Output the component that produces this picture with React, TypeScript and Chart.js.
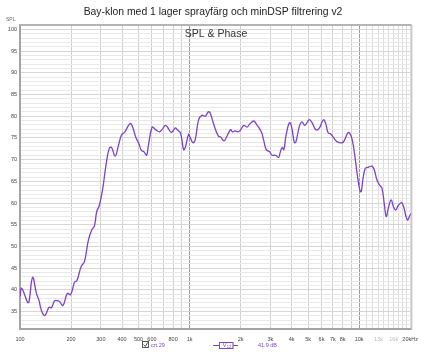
import React, { useEffect, useRef } from "react";
import { Chart, registerables } from "chart.js";
Chart.register(...registerables);

const freqs = [100, 102.3, 110.9, 112.9, 118.7, 125.2, 129.2, 133.9, 140, 148.4, 153.2, 160.2, 167.5, 171.4, 179.2, 190.2, 198.8, 209.8, 216.4, 229.5, 239.9, 253.3, 264.8, 274.6, 283.4, 293.8, 307.2, 321.3, 336, 346.5, 364, 379.2, 396.3, 414.9, 445.7, 459.8, 481.2, 503.3, 518.8, 538.3, 558, 570.2, 602.2, 630, 665, 688.5, 720.8, 743.4, 777.5, 805.4, 824.2, 850.6, 882.5, 901.6, 922.6, 943.9, 986.3, 1009, 1045, 1079, 1129, 1180, 1235, 1291, 1321, 1394, 1478, 1525, 1596, 1652, 1743, 1791, 1849, 1934, 1995, 2089, 2183, 2265, 2389, 2476, 2649, 2735, 2833, 2965, 3069, 3214, 3350, 3420, 3516, 3597, 3707, 3882, 4000, 4150, 4240, 4437, 4600, 4786, 5081, 5310, 5550, 5810, 6155, 6350, 6560, 6795, 7115, 7432, 7955, 8205, 8590, 8830, 9100, 9395, 9730, 10090, 10280, 10550, 10890, 11400, 11920, 12290, 12740, 13210, 13640, 14060, 14450, 14920, 15450, 15960, 16450, 17060, 17830, 18400, 18910, 19360, 19950, 20400];
const spl = [38.4, 40.4, 37.1, 37.2, 42.9, 39.1, 37.7, 35.2, 34.1, 36.0, 35.9, 37.5, 37.5, 37.3, 36.4, 39.2, 38.9, 41.8, 42.1, 45.4, 46.5, 51.5, 53.8, 54.7, 58.0, 59.5, 63.2, 68.7, 72.6, 72.8, 70.8, 73.0, 75.6, 76.4, 78.3, 77.7, 75.2, 73.6, 72.2, 71.8, 71.0, 73.0, 77.5, 76.9, 76.4, 76.9, 77.9, 77.4, 76.3, 76.8, 77.3, 76.8, 76.2, 74.5, 72.3, 72.8, 75.8, 75.1, 73.9, 74.5, 79.1, 80.2, 80.0, 81.0, 80.8, 77.9, 75.4, 75.2, 74.3, 75.2, 76.9, 76.4, 76.6, 76.4, 76.8, 77.9, 77.5, 78.2, 78.9, 78.2, 76.4, 74.5, 72.3, 71.8, 71.0, 71.0, 70.5, 71.6, 72.8, 72.3, 75.6, 78.5, 77.5, 73.9, 74.1, 77.6, 78.7, 77.9, 79.2, 78.3, 76.9, 77.2, 79.2, 78.3, 76.2, 75.9, 74.9, 74.1, 73.9, 74.5, 76.2, 76.0, 74.6, 71.4, 66.8, 63.0, 62.6, 65.7, 68.0, 68.3, 68.5, 67.6, 65.3, 64.1, 63.4, 59.9, 56.9, 59.1, 60.7, 59.1, 58.4, 59.5, 60.1, 58.8, 56.9, 56.1, 57.2, 57.6];

const xGridValues = [100, 200, 300, 400, 500, 600, 700, 800, 900, 1000, 2000, 3000, 4000, 5000, 6000, 7000, 8000, 9000, 10000, 11000, 12000, 13000, 14000, 15000, 16000, 17000, 18000, 19000, 20000];
const xTickLabels: Record<number, string> = { 100: "100", 200: "200", 300: "300", 400: "400", 500: "500", 600: "600", 800: "800", 1000: "1k", 2000: "2k", 3000: "3k", 4000: "4k", 5000: "5k", 6000: "6k", 7000: "7k", 8000: "8k", 10000: "10k", 13000: "13k", 16000: "16k", 20000: "20kHz" };
const greyLabels = [13000, 16000];
const yMin = 31;
const yMax = 101;

const title = "Bay-klon med 1 lager sprayfärg och minDSP filtrering v2";
const subtitle = "SPL & Phase";
const seriesName = "crt.29";
const seriesValue = "41.9 dB";

const PURPLE = "#7a44c6";
const FONT = '"Liberation Sans", Arial, sans-serif';

export default function App() {
  const ref = useRef<HTMLCanvasElement | null>(null);
  useEffect(() => {
    if (!ref.current) return;
    const textPlugin = {
      id: "texts",
      afterDraw(chart: any) {
        const ctx = chart.ctx;
        const a = chart.chartArea;
        ctx.save();
        ctx.strokeStyle = "#b4b4b4";
        ctx.lineWidth = 2;
        ctx.beginPath();
        ctx.moveTo(a.left, a.top);
        ctx.lineTo(a.right, a.top);
        ctx.stroke();
        ctx.strokeStyle = "#c8c8c8";
        ctx.lineWidth = 1.5;
        ctx.beginPath();
        ctx.moveTo(a.right, a.top);
        ctx.lineTo(a.right, a.bottom);
        ctx.stroke();
        ctx.fillStyle = "#222";
        ctx.textAlign = "center";
        ctx.textBaseline = "middle";
        ctx.font = `10.4px ${FONT}`;
        ctx.fillText(title, 213, 12);
        ctx.fillStyle = "#333";
        ctx.font = `10.5px ${FONT}`;
        ctx.fillText(subtitle, 216, 34);
        ctx.fillStyle = "#666";
        ctx.font = `5px ${FONT}`;
        ctx.textAlign = "left";
        ctx.fillText("SPL", 6, 20);
        const ly = 345;
        ctx.strokeStyle = "#555";
        ctx.lineWidth = 1;
        ctx.fillStyle = "#fff";
        ctx.fillRect(142.5, 341.5, 6, 6);
        ctx.strokeRect(142.5, 341.5, 6, 6);
        ctx.beginPath();
        ctx.moveTo(143.5, 344.5);
        ctx.lineTo(145.3, 346.5);
        ctx.lineTo(147.8, 342.3);
        ctx.stroke();
        ctx.fillStyle = PURPLE;
        ctx.font = `5.5px ${FONT}`;
        ctx.fillText(seriesName, 151, ly);
        ctx.strokeStyle = PURPLE;
        ctx.beginPath();
        ctx.moveTo(213, ly + 0.5);
        ctx.lineTo(219, ly + 0.5);
        ctx.moveTo(233, ly + 0.5);
        ctx.lineTo(238, ly + 0.5);
        ctx.stroke();
        ctx.strokeRect(219.5, 342.5, 13.5, 6);
        ctx.textAlign = "center";
        ctx.fillText("V", 224.5, ly + 0.5);
        ctx.font = `4px ${FONT}`;
        ctx.fillText("12", 229, ly + 1.5);
        ctx.textAlign = "left";
        ctx.font = `5.5px ${FONT}`;
        ctx.fillText(seriesValue, 258, ly);
        ctx.restore();
      },
    };
    const chart = new Chart(ref.current, {
      type: "line",
      data: {
        datasets: [
          {
            label: seriesName,
            data: freqs.map((f, i) => ({ x: f, y: spl[i] })),
            borderColor: PURPLE,
            borderWidth: 1.3,
            pointRadius: 0,
            tension: 0.4,
            fill: false,
          },
        ],
      },
      options: {
        animation: false,
        responsive: false,
        layout: { padding: { left: 0, top: 25, right: 10, bottom: 0 } },
        plugins: { legend: { display: false }, tooltip: { enabled: false }, title: { display: false } },
        scales: {
          x: {
            type: "logarithmic",
            min: 100,
            max: 20400,
            afterBuildTicks: (scale: any) => {
              scale.ticks = xGridValues.map((v) => ({ value: v }));
            },
            afterFit: (scale: any) => {
              scale.height = 23;
            },
            ticks: {
              autoSkip: false,
              maxRotation: 0,
              padding: 7,
              font: { size: 5.5, family: FONT },
              color: (c: any) => (greyLabels.includes(c.tick?.value) ? "#bbbbbb" : "#444"),
              callback: (v: any) => xTickLabels[Number(v)] ?? "",
            },
            grid: {
              drawTicks: false,
              color: (c: any) => {
                const v = c.tick?.value;
                if (v === 1000 || v === 10000) return "#9a9a9a";
                if (v >= 11000) return "#dcdcdc";
                return "#d0d0d0";
              },
              lineWidth: 1,
            },
            border: { display: true, color: "#a4a4a4", width: 2 },
          },
          y: {
            type: "linear",
            min: yMin,
            max: yMax,
            afterFit: (scale: any) => {
              scale.width = 20;
            },
            ticks: {
              stepSize: 1,
              autoSkip: false,
              padding: 3,
              font: { size: 5.5, family: FONT },
              color: "#444",
              callback: (v: any) => (Number(v) % 5 === 0 && Number(v) <= 100 ? String(v) : ""),
            },
            grid: {
              drawTicks: false,
              color: (c: any) => (c.tick?.value % 5 === 0 ? "#d6d6d6" : "#e8e8e8"),
              lineWidth: 1,
            },
            border: { display: true, color: "#a4a4a4", width: 2 },
          },
        },
      },
      plugins: [textPlugin],
    } as any);
    return () => chart.destroy();
  }, []);
  return (
    <div style={{ position: "absolute", left: 0, top: 0, width: 425, height: 352, background: "#fff" }}>
      <canvas ref={ref} width={425} height={352} style={{ width: 425, height: 352 }} />
    </div>
  );
}
